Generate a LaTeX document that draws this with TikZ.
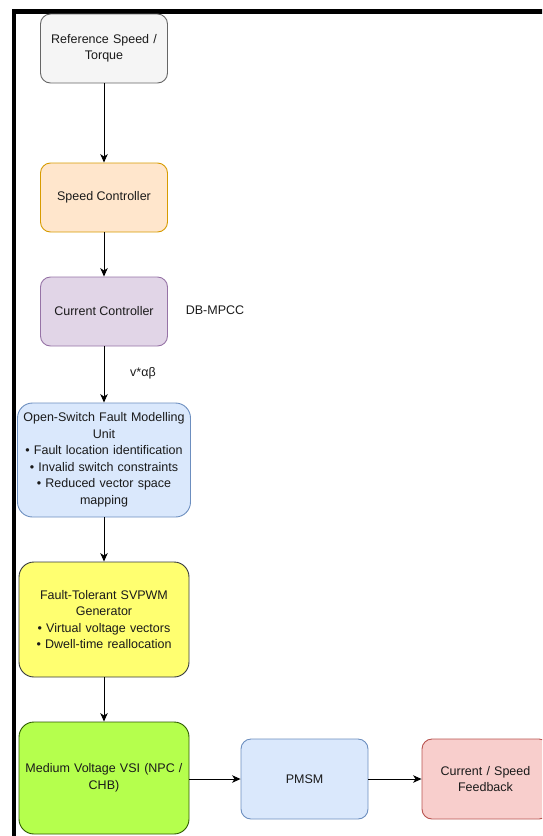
\documentclass[tikz,border=0pt]{standalone}
\usepackage{fontspec}
\setmainfont{Liberation Sans}
\usetikzlibrary{arrows.meta}
\definecolor{refF}{HTML}{F5F5F5}\definecolor{refD}{HTML}{666666}
\definecolor{spdF}{HTML}{FFE6CC}\definecolor{spdD}{HTML}{D79B00}
\definecolor{curF}{HTML}{E1D5E7}\definecolor{curD}{HTML}{9673A6}
\definecolor{bluF}{HTML}{DAE8FC}\definecolor{bluD}{HTML}{6C8EBF}
\definecolor{yelF}{HTML}{FFFF70}\definecolor{yelD}{HTML}{36393D}
\definecolor{grnF}{HTML}{B5FF4D}\definecolor{grnD}{HTML}{2D5A00}
\definecolor{redF}{HTML}{F8CECC}\definecolor{redD}{HTML}{B85450}
\definecolor{txt}{HTML}{1A1A1A}
\tikzset{
  blk/.style={rectangle, rounded corners=10pt, line width=0.9pt, align=center,
    inner sep=2pt, text=txt, font=\fontsize{12.5}{16.5}\selectfont},
  big/.style={blk, rounded corners=15pt},
  conn/.style={line width=0.9pt, -{Stealth[length=8.5pt,width=7.5pt,inset=2.5pt]}},
  lbl/.style={text=txt, font=\fontsize{12.5}{15}\selectfont, inner sep=0pt}
}
\begin{document}
\begin{tikzpicture}[x=1pt,y=-1pt]
\useasboundingbox (0,0) rectangle (542,836);
\begin{scope}
\clip (0,0) rectangle (542,836);
\draw[line width=4.8pt] (14,11.5) rectangle (600,900);
\node[blk, fill=refF, draw=refD, minimum width=127pt, minimum height=69pt, text width=122pt] (ref) at (104,48.5) {Reference Speed /\\Torque};
\node[blk, fill=spdF, draw=spdD, minimum width=127pt, minimum height=69pt] (spd) at (104,197.5) {Speed Controller};
\node[blk, fill=curF, draw=curD, minimum width=127pt, minimum height=69pt] (cur) at (104,311.5) {Current Controller};
\node[big, fill=bluF, draw=bluD, minimum width=173pt, minimum height=114pt, text width=169pt] (osf) at (104,460) {Open-Switch Fault Modelling\\Unit\\• Fault location identification\\• Invalid switch constraints\\• Reduced vector space\\mapping};
\node[big, fill=yelF, draw=yelD, minimum width=170pt, minimum height=115pt, text width=166pt] (fts) at (104,619.5) {Fault-Tolerant SVPWM\\Generator\\• Virtual voltage vectors\\• Dwell-time reallocation};
\node[big, fill=grnF, draw=grnD, minimum width=170pt, minimum height=112pt, text width=166pt] (vsi) at (104,778) {Medium Voltage VSI (NPC /\\CHB)};
\node[blk, fill=bluF, draw=bluD, minimum width=127pt, minimum height=80pt] (pmsm) at (304.5,779) {PMSM};
\node[blk, fill=redF, draw=redD, minimum width=127pt, minimum height=80pt, text width=120pt] (fb) at (485.5,779) {Current / Speed\\Feedback};
\node[lbl] (db) at (215,310) {DB-MPCC};
\node[lbl] (vab) at (143,373) {v*αβ};
\draw[conn] (ref) -- (spd);
\draw[conn] (spd) -- (cur);
\draw[conn] (cur) -- (osf);
\draw[conn] (osf) -- (fts);
\draw[conn] (fts) -- (vsi);
\draw[conn] (vsi.east |- pmsm.west) -- (pmsm.west);
\draw[conn] (pmsm) -- (fb);
\end{scope}
\end{tikzpicture}
\end{document}
